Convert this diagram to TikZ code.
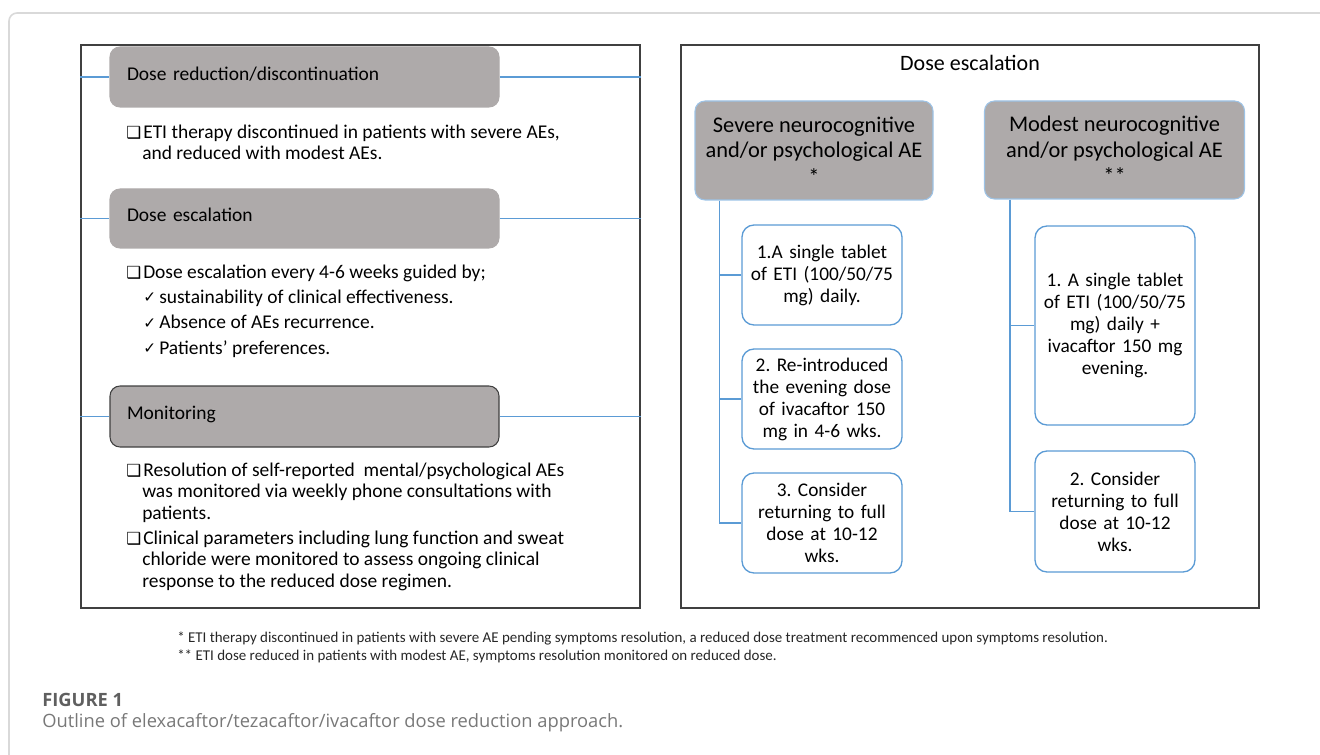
\documentclass[tikz,border=0pt]{standalone}
\usepackage{fontspec}
\setmainfont{Carlito}
\newfontfamily\dejavu{DejaVu Sans}
\newfontfamily\opensans{Open Sans}
\usetikzlibrary{calc}
\definecolor{hdrgray}{RGB}{174,170,170}
\definecolor{lineblue}{RGB}{91,155,213}
\definecolor{hdrblue}{RGB}{157,195,230}
\definecolor{panelgray}{RGB}{64,64,64}
\definecolor{cardgray}{RGB}{217,217,217}
\definecolor{capgray}{RGB}{120,120,120}
\definecolor{figgray}{RGB}{95,95,95}
\frenchspacing
\newcommand{\bul}{\makebox[12.75pt][l]{\dejavu\fontsize{12.5pt}{12.5pt}\selectfont ❑}}
\newcommand{\ck}{\makebox[12pt][l]{\dejavu\fontsize{11.5pt}{11.5pt}\selectfont\raisebox{0.5pt}{✓}}}
\newcommand{\lfont}{\fontsize{14.6pt}{16.1pt}\selectfont}
\newcommand{\lfontb}{\fontsize{14.6pt}{19pt}\selectfont}
\newcommand{\rfont}{\fontsize{16.8pt}{19pt}\selectfont}
\newcommand{\sfnt}{\fontsize{14.5pt}{16.5pt}\selectfont}
\newcommand{\sst}{\rule{0pt}{1em}}
\newlength\fnw
\newlength\capw
\tikzset{
  panel/.style={draw=panelgray, line width=1.1pt, fill=none, inner sep=0pt},
  lhdr/.style={rectangle, rounded corners=7.5pt, fill=hdrgray, draw=hdrgray, line width=0.8pt,
    minimum width=291.75pt, text width=266.25pt, inner xsep=12.75pt, align=left,
    font=\lfont, text height=0.7em, text depth=0.2em},
  rhdr/.style={rectangle, rounded corners=7.5pt, fill=hdrgray, draw=hdrblue, line width=0.8pt,
    align=center, font=\rfont},
  sbox/.style={rectangle, rounded corners=9pt, draw=lineblue, line width=1pt, fill=white,
    minimum width=120pt, text width=112pt, inner xsep=4pt, align=center, font=\sfnt},
  bline/.style={draw=lineblue, line width=0.9pt},
  ltext/.style={anchor=north west, inner sep=0pt, align=left},
  rtitle/.style={font=\fontsize{16.5pt}{18pt}\selectfont, inner sep=0pt},
}
\begin{document}
\settowidth{\fnw}{\fontsize{10pt}{12pt}\selectfont * ETI therapy discontinued in patients with severe AE pending symptoms resolution, a reduced dose treatment recommenced upon symptoms resolution.}%
\pgfmathsetmacro\fnsz{10*698/\fnw}%
\settowidth{\capw}{\opensans\fontsize{10pt}{12pt}\selectfont Outline of elexacaftor/tezacaftor/ivacaftor dose reduction approach.}%
\pgfmathsetmacro\capsz{10*435.75/\capw}%
\begin{tikzpicture}[x=0.75pt,y=-0.75pt]
\useasboundingbox (0,0) rectangle (1320,755);
% outer card
\draw[draw=cardgray, line width=1.2pt, rounded corners=6pt] (9,757) -- (9,13) -- (1322,13);

% panels
\node[panel, minimum width=419.25pt, minimum height=422.25pt] (lp) at (360.5,326.5) {};
\node[panel, minimum width=433.5pt, minimum height=422.25pt] (rp) at (970,326.5) {};

% left headers
\node[lhdr, minimum height=45pt] (h1) at (304.5,77) {Dose reduction/discontinuation};
\node[lhdr, minimum height=44.25pt] (h2) at (304.5,218.5) {Dose escalation};
\node[lhdr, draw=panelgray, minimum height=45.75pt] (h3) at (304.5,416.5) {Monitoring};
\foreach \h in {h1,h2,h3}{
  \draw[bline] (lp.west |- \h.west) -- (\h.west);
  \draw[bline] (\h.east) -- (\h.east -| lp.east);
}

% left texts
\node[ltext, font=\lfont] (t1) at (126,118.5) {\sst\bul ETI therapy discontinued in patients with severe AEs,\\\hspace*{12pt}and reduced with modest AEs.};
\node[ltext, font=\lfontb] (t2) at (126,258.5) {\sst\bul Dose escalation every 4-6 weeks guided by;\\
\hspace*{12.75pt}\ck sustainability of clinical effectiveness.\\
\hspace*{12.75pt}\ck Absence of AEs recurrence.\\
\hspace*{12.75pt}\ck Patients’ preferences.};
\node[ltext, font=\lfont] (t3) at (126,456.5) {\sst\bul Resolution of self-reported \ mental/psychological AEs\\\hspace*{12pt}was monitored via weekly phone consultations with\\\hspace*{12pt}patients.};
\node[ltext, font=\lfont] (t4) at (126,524.5) {\sst\bul Clinical parameters including lung function and sweat\\\hspace*{12pt}chloride were monitored to assess ongoing clinical\\\hspace*{12pt}response to the reduced dose regimen.};

% right panel
\node[rtitle] (rt) at (970,63) {Dose escalation};
\node[rhdr, minimum width=178.5pt, minimum height=74.25pt] (sev) at (814,150.5) {Severe neurocognitive\\and/or psychological AE\\[1pt]{}*};
\node[rhdr, minimum width=195pt, minimum height=73.5pt] (mod) at (1114.5,150) {Modest neurocognitive\\and/or psychological AE\\[1pt]{}**};

\node[sbox, minimum height=75pt] (b1) at (822,275) {1.A single tablet\\of ETI (100/50/75\\mg) daily.};
\node[sbox, minimum height=75pt] (b2) at (822,399) {2. Re-introduced\\the evening dose\\of ivacaftor 150\\mg in 4-6 wks.};
\node[sbox, minimum height=75pt] (b3) at (822,523) {3. Consider\\returning to full\\dose at 10-12\\wks.};
\node[sbox, minimum height=149.25pt] (m1) at (1115,325.5) {1. A single tablet\\of ETI (100/50/75\\mg) daily +\\ivacaftor 150 mg\\evening.};
\node[sbox, minimum height=90.75pt] (m2) at (1115,511.5) {2. Consider\\returning to full\\dose at 10-12\\wks.};

\coordinate (sv) at ($(sev.south west)+(25,0)$);
\draw[bline] (sv) |- (b3.west);
\draw[bline] (sv |- b1.west) -- (b1.west);
\draw[bline] (sv |- b2.west) -- (b2.west);
\coordinate (mv) at ($(mod.south west)+(26,0)$);
\draw[bline] (mv) |- (m2.west);
\draw[bline] (mv |- m1.west) -- (m1.west);

% footnotes
\node[anchor=west, inner sep=0pt, text=black!85, font=\fontsize{\fnsz pt}{12pt}\selectfont] (fn1) at (177,638) {* ETI therapy discontinued in patients with severe AE pending symptoms resolution, a reduced dose treatment recommenced upon symptoms resolution.};
\node[anchor=west, inner sep=0pt, text=black!85, font=\fontsize{\fnsz pt}{12pt}\selectfont] (fn2) at (177,656) {** ETI dose reduced in patients with modest AE, symptoms resolution monitored on reduced dose.};

% caption
\node[anchor=west, inner sep=0pt, text=figgray, font=\opensans\bfseries\fontsize{\capsz pt}{14pt}\selectfont] (fig) at (42,700) {FIGURE 1};
\node[anchor=west, inner sep=0pt, text=capgray, font=\opensans\fontsize{\capsz pt}{14pt}\selectfont] (cap) at (42,723) {Outline of elexacaftor/tezacaftor/ivacaftor dose reduction approach.};
\end{tikzpicture}
\end{document}
